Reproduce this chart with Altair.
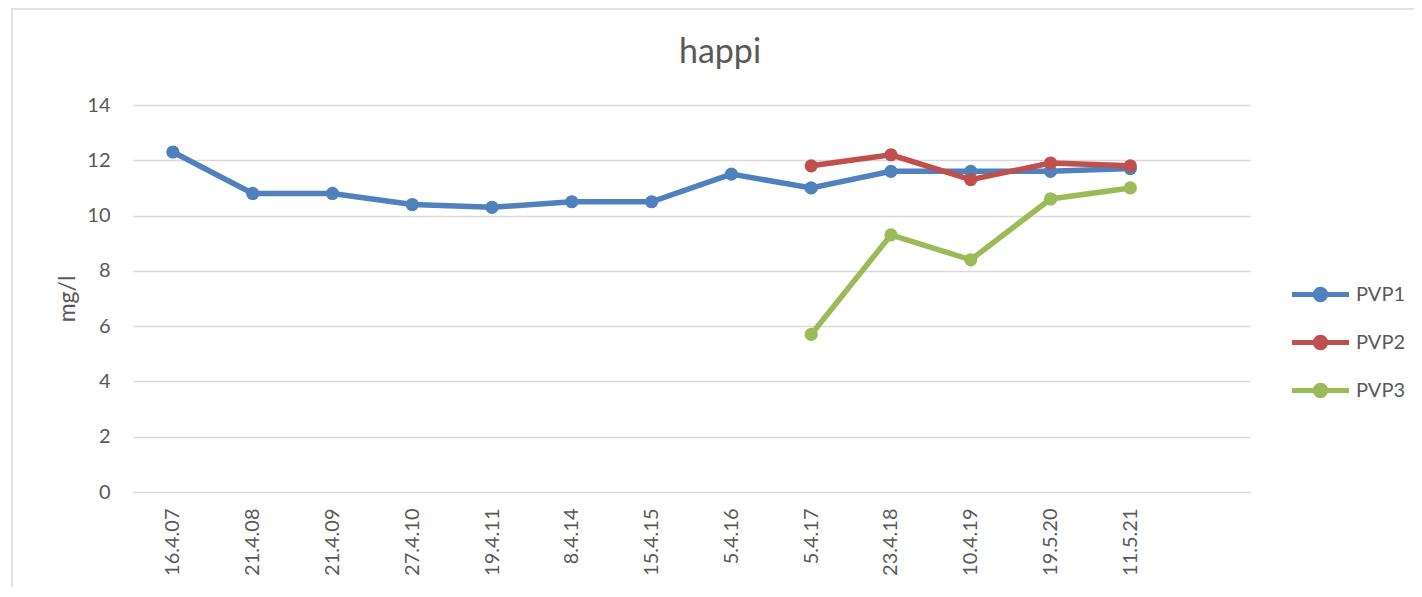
import altair as alt
import pandas as pd

dates = ["16.4.07", "21.4.08", "21.4.09", "27.4.10", "19.4.11", "8.4.14", "15.4.15",
         "5.4.16", "5.4.17", "23.4.18", "10.4.19", "19.5.20", "11.5.21"]
pvp1 = [12.3, 10.8, 10.8, 10.4, 10.3, 10.5, 10.5, 11.5, 11.0, 11.6, 11.6, 11.6, 11.7]
pvp2_dates = ["5.4.17", "23.4.18", "10.4.19", "19.5.20", "11.5.21"]
pvp2 = [11.8, 12.2, 11.3, 11.9, 11.8]
pvp3_dates = ["5.4.17", "23.4.18", "10.4.19", "19.5.20", "11.5.21"]
pvp3 = [5.7, 9.3, 8.4, 10.6, 11.0]
series_names = ["PVP1", "PVP2", "PVP3"]
colors = ["#4F81BD", "#C0504D", "#9BBB59"]
y_ticks = [0, 2, 4, 6, 8, 10, 12, 14]
chart_title = "happi"

rows = []
for d, v in zip(dates, pvp1):
    rows.append({"date": d, "value": v, "series": "PVP1"})
for d, v in zip(pvp2_dates, pvp2):
    rows.append({"date": d, "value": v, "series": "PVP2"})
for d, v in zip(pvp3_dates, pvp3):
    rows.append({"date": d, "value": v, "series": "PVP3"})
df = pd.DataFrame(rows)

FONT = "Lato"
GREY = "#595959"

x_domain = dates + [" "]

x = alt.X("date:N", sort=x_domain,
          scale=alt.Scale(type="point", domain=x_domain, padding=0.5),
          axis=alt.Axis(title=None, labelAngle=-90, labelFontSize=20, labelFont=FONT,
                        labelColor=GREY, ticks=False, domain=True, domainColor="#D9D9D9",
                        labelPadding=16, grid=False))
y = alt.Y("value:Q", scale=alt.Scale(domain=[0, 14], nice=False),
          axis=alt.Axis(title="mg/l", values=y_ticks, labelFontSize=20, labelFont=FONT,
                        labelColor=GREY, ticks=False, domain=False, gridColor="#D9D9D9",
                        gridWidth=1.3, labelPadding=23, titleFont=FONT, titleFontSize=23,
                        titleFontWeight="normal", titleColor=GREY, titleX=-66, titleY=193.5,
                        titleBaseline="middle", titleAngle=-90))

sym_path = ("M -1.9 0 L 1.9 0 "
            "M 0.35 0 A 0.35 0.35 0 1 1 -0.35 0 A 0.35 0.35 0 1 1 0.35 0 Z "
            "M 0.12 0 A 0.12 0.12 0 1 1 -0.12 0 A 0.12 0.12 0 1 1 0.12 0 Z")

color = alt.Color("series:N", scale=alt.Scale(domain=series_names, range=colors),
                  legend=alt.Legend(title=None, orient="none", legendX=1170, legendY=172,
                                    symbolType=sym_path, symbolSize=900, symbolStrokeWidth=5,
                                    labelFont=FONT, labelFontSize=20, labelColor=GREY,
                                    labelOffset=18, rowPadding=15, padding=0))

one = pd.DataFrame({"t": [chart_title]})

# light grey chart-area frame (decorative, like the spreadsheet chart border)
frame = alt.Chart(one).mark_rect(
    fill=None, stroke="#D9D9D9", strokeWidth=1.5
).encode(x=alt.value(-121), x2=alt.value(1320), y=alt.value(-96), y2=alt.value(520))

title = alt.Chart(one).mark_text(
    font=FONT, fontSize=34, color=GREY, baseline="alphabetic", align="center"
).encode(text="t:N", x=alt.value(587), y=alt.value(-42))

layers = [frame, title]
for s in series_names:
    base = alt.Chart(df).transform_filter(alt.datum.series == s)
    layers.append(base.mark_line(strokeWidth=5.5).encode(x=x, y=y, color=color))
    layers.append(base.mark_point(filled=True, size=175, opacity=1, shape="circle")
                  .encode(x=x, y=y, color=color))

chart = alt.layer(*layers).properties(
    width=1117, height=387,
    background="white",
    autosize=alt.AutoSizeParams(type="none"),
    padding={"left": 125, "top": 97, "right": 164, "bottom": 95},
).configure_view(stroke=None)

chart.save("out.html", embed_options={"renderer": "svg", "actions": False})
